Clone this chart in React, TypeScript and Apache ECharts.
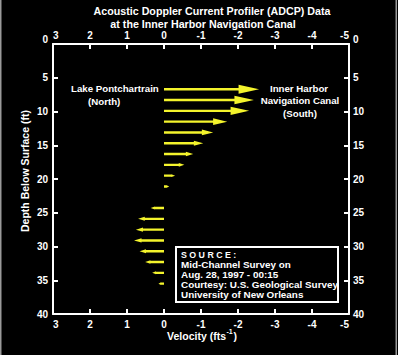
import React, { useEffect, useRef } from "react";
import * as echarts from "echarts";

const depthsTop = [6.7, 8.3, 9.9, 11.5, 13.1, 14.7, 16.3, 17.9, 19.5, 21.1];
const velocitiesTop = [-2.57, -2.43, -2.3, -1.71, -1.33, -1.06, -0.79, -0.55, -0.3, -0.14];
const depthsBottom = [24.3, 25.9, 27.5, 29.1, 30.7, 32.3, 33.9, 35.5];
const velocitiesBottom = [0.36, 0.7, 0.76, 0.81, 0.66, 0.51, 0.32, 0.15];

const titleLines = [
  "Acoustic Doppler Current Profiler (ADCP) Data",
  "at the Inner Harbor Navigation Canal",
];
const sourceLines = [
  "Mid-Channel Survey on",
  "Aug. 28, 1997 - 00:15",
  "Courtesy: U.S. Geological Survey",
  "University of New Orleans",
];

const FONT = "'Liberation Sans', Arial, Helvetica, sans-serif";
const YELLOW = "#f4f42c";
const WHITE = "#ffffff";

export default function App() {
  const ref = useRef<HTMLDivElement>(null);
  useEffect(() => {
    document.body.style.margin = "0";
    const chart = echarts.init(ref.current!, null, { renderer: "svg" });
    const data: number[][] = [];
    depthsTop.forEach((d, i) => data.push([velocitiesTop[i], d]));
    depthsBottom.forEach((d, i) => data.push([velocitiesBottom[i], d]));

    const axisLabel = {
      color: WHITE,
      fontFamily: FONT,
      fontWeight: "bold" as const,
      fontSize: 10,
    };
    const xCommon = {
      type: "value" as const,
      min: -5,
      max: 3,
      interval: 1,
      inverse: true,
      splitLine: { show: false },
      axisLine: { show: true, onZero: false, lineStyle: { color: WHITE, width: 2 } },
      axisTick: { show: true, inside: true, length: 5, lineStyle: { color: WHITE, width: 2 } },
    };
    const yCommon = {
      type: "value" as const,
      min: 0,
      max: 40,
      interval: 5,
      inverse: true,
      splitLine: { show: false },
      axisLine: { show: true, onZero: false, lineStyle: { color: WHITE, width: 2 } },
      axisTick: { show: true, inside: true, length: 5, lineStyle: { color: WHITE, width: 2 } },
    };

    const txt = (text: string, x: number, y: number, size: number, align = "center", extra: any = {}) => ({
      type: "text",
      x,
      y,
      silent: true,
      ...extra,
      style: {
        text,
        fill: WHITE,
        font: `bold ${size}px ${FONT}`,
        align,
        verticalAlign: "middle",
      },
    });

    chart.setOption({
      animation: false,
      backgroundColor: "#000000",
      grid: { left: 53, right: 49, top: 44, bottom: 41 },
      xAxis: [
        {
          ...xCommon,
          position: "bottom",
          axisLabel: { ...axisLabel, margin: 5, alignMinLabel: "right", alignMaxLabel: "left" },
        },
        {
          ...xCommon,
          position: "top",
          axisLabel: { ...axisLabel, margin: 4, alignMinLabel: "right", alignMaxLabel: "left" },
        },
      ],
      yAxis: [
        {
          ...yCommon,
          position: "left",
          axisLabel: { ...axisLabel, margin: 5, verticalAlignMinLabel: "bottom" },
        },
        {
          ...yCommon,
          position: "right",
          axisLabel: { ...axisLabel, margin: 4, verticalAlignMinLabel: "bottom" },
        },
      ],
      series: [
        {
          type: "custom",
          xAxisIndex: 0,
          yAxisIndex: 0,
          data,
          renderItem: (params: any, api: any) => {
            const v = api.value(0);
            const d = api.value(1);
            const s = api.coord([0, d]);
            const e = api.coord([v, d]);
            const dx = e[0] - s[0];
            const len = Math.abs(dx);
            const dir = dx >= 0 ? 1 : -1;
            const headL = Math.min(len, 0.2 * len + 1.5);
            const hw = 0.036 * len + 1.1;
            const sw = 1.2;
            const y = s[1];
            const bx = e[0] - dir * headL;
            const points = [
              [s[0], y - sw],
              [bx, y - sw],
              [bx, y - hw],
              [e[0], y],
              [bx, y + hw],
              [bx, y + sw],
              [s[0], y + sw],
            ];
            return {
              type: "polygon",
              shape: { points },
              style: { fill: YELLOW, stroke: null },
            };
          },
        },
      ],
      graphic: [
        { type: "rect", shape: { x: 0, y: 0, width: 1.5, height: 355 }, style: { fill: "#9a9a9a" }, silent: true },
        { type: "rect", shape: { x: 395.5, y: 0, width: 1.5, height: 355 }, style: { fill: "#9a9a9a" }, silent: true },
        txt(titleLines[0], 212, 10.5, 10.7),
        txt(titleLines[1], 203, 23.5, 10.7),
        txt("Lake Pontchartrain", 71, 88, 9.7, "left"),
        txt("(North)", 88, 101.5, 9.7, "left"),
        txt("Inner Harbor", 299, 88, 9.7),
        txt("Navigation Canal", 300, 100.5, 9.7),
        txt("(South)", 300, 113, 9.7),
        txt("Depth Below Surface (ft)", 25, 171, 10.5, "center", { rotation: Math.PI / 2 }),
        txt("Velocity (fts", 226, 336, 10.5, "right"),
        txt("-1", 226.5, 331.5, 7, "left"),
        txt(")", 233.5, 336, 10.5, "left"),
        {
          type: "rect",
          shape: { x: 176, y: 247, width: 162, height: 55 },
          style: { fill: "#000000", stroke: WHITE, lineWidth: 2 },
          silent: true,
        },
        txt("S O U R C E :", 181, 255, 8.8, "left"),
        ...sourceLines.map((l, i) => txt(l, 181, 264.5 + i * 10.1, 9.9, "left")),
      ],
    });
    return () => chart.dispose();
  }, []);
  return <div ref={ref} style={{ width: 398, height: 355 }} />;
}
